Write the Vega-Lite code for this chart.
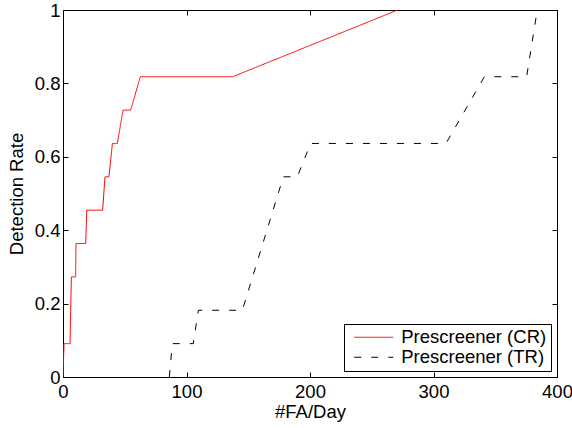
{
  "$schema": "https://vega.github.io/schema/vega-lite/v6.json",
  "width": 494,
  "height": 367,
  "autosize": {"type": "none"},
  "padding": {"left": 63, "top": 10, "right": 15, "bottom": 51},
  "background": "white",
  "config": {
    "font": "Liberation Sans",
    "view": {"stroke": "black", "strokeWidth": 1},
    "axis": {
      "grid": false,
      "domainColor": "black",
      "tickColor": "black",
      "labelColor": "black",
      "titleColor": "black",
      "labelFontSize": 18.5,
      "titleFontSize": 18.5,
      "titleFontWeight": "normal",
      "labelFont": "Liberation Sans",
      "titleFont": "Liberation Sans"
    },
    "legend": {
      "labelFont": "Liberation Sans",
      "labelFontSize": 18.5,
      "labelColor": "black"
    }
  },
  "data": {
    "values": [
      {"series": "Prescreener (CR)", "o": 0, "fa": 0, "dr": 0},
      {"series": "Prescreener (CR)", "o": 1, "fa": 0.8, "dr": 0.0909},
      {"series": "Prescreener (CR)", "o": 2, "fa": 5.7, "dr": 0.0909},
      {"series": "Prescreener (CR)", "o": 3, "fa": 6.2, "dr": 0.1818},
      {"series": "Prescreener (CR)", "o": 4, "fa": 6.8, "dr": 0.2727},
      {"series": "Prescreener (CR)", "o": 5, "fa": 10.2, "dr": 0.2727},
      {"series": "Prescreener (CR)", "o": 6, "fa": 10.5, "dr": 0.3636},
      {"series": "Prescreener (CR)", "o": 7, "fa": 18.4, "dr": 0.3636},
      {"series": "Prescreener (CR)", "o": 8, "fa": 19.2, "dr": 0.4545},
      {"series": "Prescreener (CR)", "o": 9, "fa": 32.1, "dr": 0.4545},
      {"series": "Prescreener (CR)", "o": 10, "fa": 34.0, "dr": 0.5455},
      {"series": "Prescreener (CR)", "o": 11, "fa": 37.2, "dr": 0.5455},
      {"series": "Prescreener (CR)", "o": 12, "fa": 40.0, "dr": 0.6364},
      {"series": "Prescreener (CR)", "o": 13, "fa": 44.0, "dr": 0.6364},
      {"series": "Prescreener (CR)", "o": 14, "fa": 48.6, "dr": 0.7273},
      {"series": "Prescreener (CR)", "o": 15, "fa": 54.8, "dr": 0.7273},
      {"series": "Prescreener (CR)", "o": 16, "fa": 62.6, "dr": 0.8182},
      {"series": "Prescreener (CR)", "o": 17, "fa": 137.4, "dr": 0.8182},
      {"series": "Prescreener (CR)", "o": 18, "fa": 271, "dr": 1},
      {"series": "Prescreener (TR)", "o": 0, "fa": 86.1, "dr": 0},
      {"series": "Prescreener (TR)", "o": 1, "fa": 88.5, "dr": 0.0909},
      {"series": "Prescreener (TR)", "o": 2, "fa": 105.5, "dr": 0.0909},
      {"series": "Prescreener (TR)", "o": 3, "fa": 109.6, "dr": 0.1818},
      {"series": "Prescreener (TR)", "o": 4, "fa": 145.2, "dr": 0.1818},
      {"series": "Prescreener (TR)", "o": 5, "fa": 178.4, "dr": 0.5455},
      {"series": "Prescreener (TR)", "o": 6, "fa": 189.7, "dr": 0.5455},
      {"series": "Prescreener (TR)", "o": 7, "fa": 200.5, "dr": 0.6364},
      {"series": "Prescreener (TR)", "o": 8, "fa": 310.1, "dr": 0.6364},
      {"series": "Prescreener (TR)", "o": 9, "fa": 341.2, "dr": 0.8182},
      {"series": "Prescreener (TR)", "o": 10, "fa": 375.4, "dr": 0.8182},
      {"series": "Prescreener (TR)", "o": 11, "fa": 384, "dr": 1}
    ]
  },
  "resolve": {"axis": {"x": "independent", "y": "independent"}},
  "layer": [
    {
      "mark": {"type": "line", "strokeWidth": 1, "clip": true},
      "encoding": {
        "x": {
          "field": "fa", "type": "quantitative",
          "scale": {"domain": [0, 400], "nice": false, "zero": false},
          "axis": {"orient": "bottom", "title": "#FA/Day", "values": [0, 100, 200, 300, 400], "tickSize": -5, "labelPadding": 10, "titlePadding": 2, "labelFlush": false, "labelOverlap": false}
        },
        "y": {
          "field": "dr", "type": "quantitative",
          "scale": {"domain": [0, 1], "nice": false},
          "axis": {"orient": "left", "title": "Detection Rate", "values": [0, 0.2, 0.4, 0.6, 0.8, 1], "format": "~g", "tickSize": -5, "labelPadding": 8, "titlePadding": 8, "labelFlush": false, "labelOverlap": false}
        },
        "order": {"field": "o", "type": "quantitative"},
        "color": {
          "field": "series", "type": "nominal",
          "scale": {"domain": ["Prescreener (CR)", "Prescreener (TR)"], "range": ["#ff0000", "#000000"]},
          "legend": {
            "title": null, "orient": "bottom-right", "offset": 6,
            "strokeColor": "black", "fillColor": "white", "padding": 4, "cornerRadius": 0,
            "symbolType": "M-0.46,0H5.54", "symbolSize": 169, "symbolStrokeWidth": 1,
            "labelOffset": 34.7, "rowPadding": 1
          }
        },
        "strokeDash": {
          "field": "series", "type": "nominal",
          "scale": {"domain": ["Prescreener (CR)", "Prescreener (TR)"], "range": [[1, 0], [7, 10]]},
          "legend": {
            "title": null, "orient": "bottom-right", "offset": 6,
            "strokeColor": "black", "fillColor": "white", "padding": 4, "cornerRadius": 0,
            "symbolType": "M-0.46,0H5.54", "symbolSize": 169, "symbolStrokeWidth": 1,
            "labelOffset": 34.7, "rowPadding": 1
          }
        }
      }
    },
    {
      "mark": {"type": "point", "opacity": 0},
      "encoding": {
        "x": {
          "field": "fa", "type": "quantitative",
          "axis": {"orient": "top", "title": null, "labels": false, "values": [0, 100, 200, 300, 400], "tickSize": -5}
        },
        "y": {
          "field": "dr", "type": "quantitative",
          "axis": {"orient": "right", "title": null, "labels": false, "values": [0, 0.2, 0.4, 0.6, 0.8, 1], "tickSize": -5}
        }
      }
    }
  ]
}
